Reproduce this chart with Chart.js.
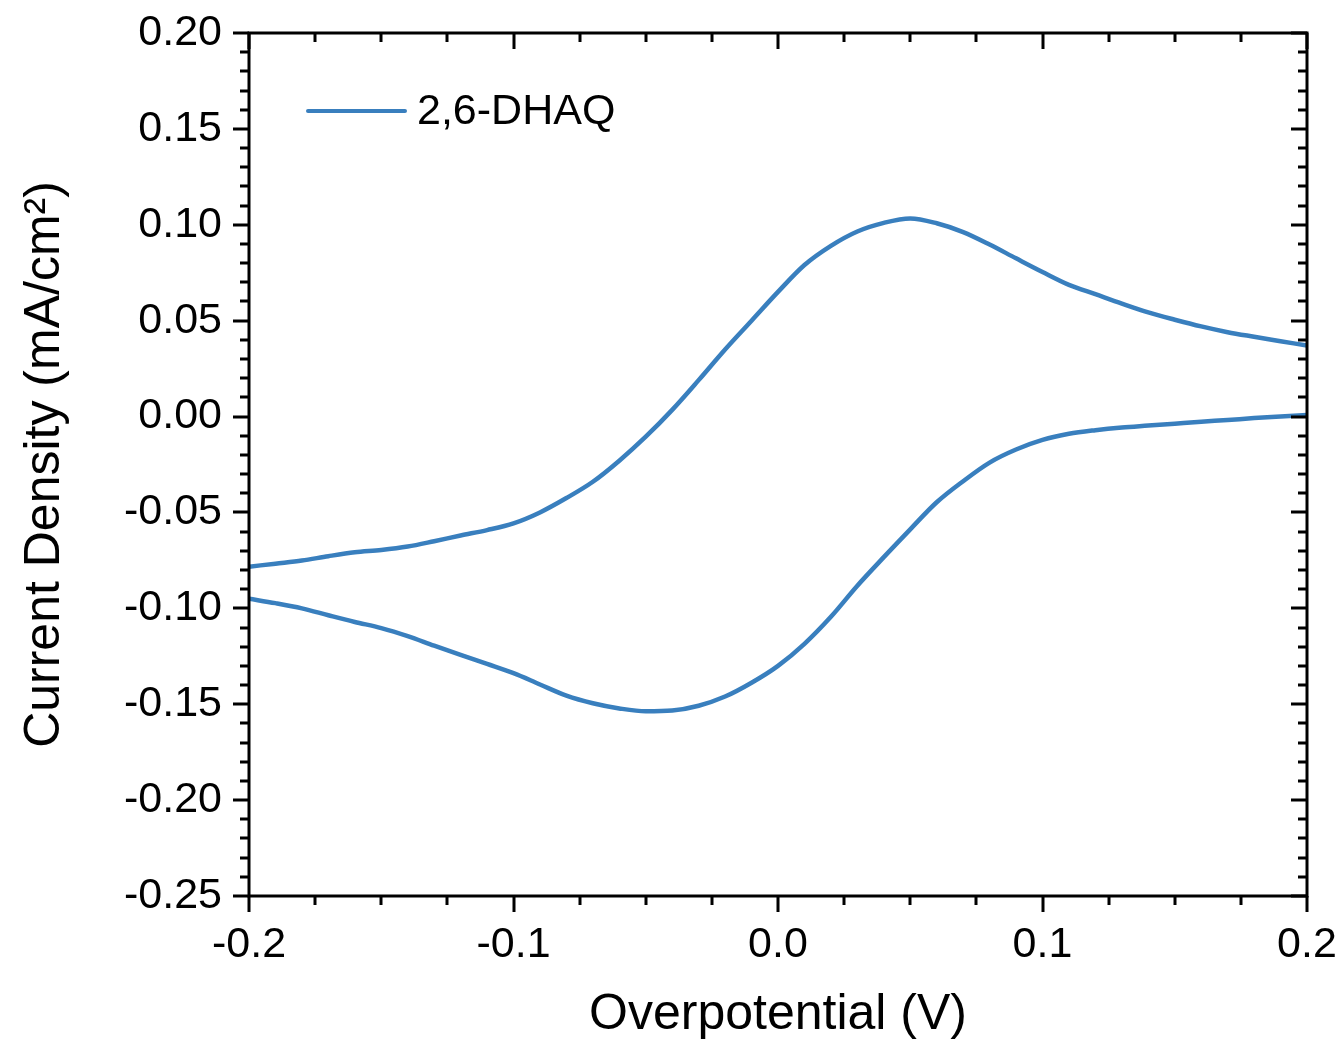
<!DOCTYPE html>
<html>
<head>
<meta charset="utf-8">
<script src="https://cdn.jsdelivr.net/npm/chart.js@4/dist/chart.umd.min.js"></script>
<style>
    body { margin: 0; background: #fff; }
    #wrap { width: 1343px; height: 1047px; }
</style>
</head>
<body>
<div id="wrap"><canvas id="cv" width="1343" height="1047"></canvas></div>
<script>
// overpotential grid (V)
const voltage = [
    -0.20, -0.19, -0.18, -0.17, -0.16, -0.15, -0.14, -0.13, -0.12, -0.11,
    -0.10, -0.09, -0.08, -0.07, -0.06, -0.05, -0.04, -0.03, -0.02, -0.01,
     0.00,  0.01,  0.02,  0.03,  0.04,  0.05,  0.06,  0.07,  0.08,  0.09,
     0.10,  0.11,  0.12,  0.13,  0.14,  0.15,  0.16,  0.17,  0.18,  0.19, 0.20
];
// forward (oxidation) sweep, mA/cm2
const anodic = [
    -0.0783, -0.0767, -0.0751, -0.0728, -0.0708, -0.0696, -0.0678, -0.0650, -0.0620, -0.0592,
    -0.0557, -0.0500, -0.0425, -0.0340, -0.0230, -0.0105,  0.0035,  0.0190,  0.0350,  0.0500,
     0.0650,  0.0790,  0.0890,  0.0965,  0.1010,  0.1033,  0.1008,  0.0962,  0.0897,  0.0825,
     0.0754,  0.0687,  0.0638,  0.0589,  0.0543,  0.0505,  0.0470,  0.0440,  0.0416,  0.0393, 0.0370
];
// reverse (reduction) sweep, mA/cm2
const cathodic = [
    -0.0950, -0.0973, -0.1000, -0.1036, -0.1071, -0.1103, -0.1145, -0.1195, -0.1243, -0.1290,
    -0.1338, -0.1397, -0.1455, -0.1495, -0.1522, -0.1537, -0.1533, -0.1508, -0.1460, -0.1388,
    -0.1300, -0.1185, -0.1044, -0.0882, -0.0733, -0.0588, -0.0447, -0.0337, -0.0240, -0.0172,
    -0.0122, -0.0090, -0.0071, -0.0057, -0.0047, -0.0037, -0.0027, -0.0018, -0.0008,  0.0000, 0.0008
];
const xTicks = [-0.2, -0.1, 0.0, 0.1, 0.2];
const yTicks = [-0.25, -0.20, -0.15, -0.10, -0.05, 0.00, 0.05, 0.10, 0.15, 0.20];
const seriesLabel = "2,6-DHAQ";

const FONT = "'Liberation Sans', Arial, Helvetica, sans-serif";
const LINE = '#397fbe';

function points(ys) {
    return voltage.map((v, i) => ({ x: v, y: ys[i] }));
}

// no extra room for overhanging tick labels, the layout padding handles it
function noLabelPadding(scale) {
    scale.paddingTop = 0;
    scale.paddingBottom = 0;
    scale.paddingLeft = 0;
    scale.paddingRight = 0;
}

// frame, origin-style ticks on all four sides, and the in-plot legend
const frameTicks = {
    id: 'frameTicks',
    afterDraw: function(chart) {
        const ctx = chart.ctx, a = chart.chartArea;
        const x = chart.scales.x, y = chart.scales.y;
        ctx.save();
        ctx.strokeStyle = '#000';
        ctx.lineWidth = 3;
        ctx.strokeRect(a.left, a.top, a.right - a.left, a.bottom - a.top);

        ctx.beginPath();
        for (let i = 0; i <= 16; i++) {
            const px = Math.round(x.getPixelForValue(x.min + i * 0.025));
            const len = (i % 4 === 0) ? 16 : 9;
            ctx.moveTo(px, a.bottom); ctx.lineTo(px, a.bottom + len);
            ctx.moveTo(px, a.top); ctx.lineTo(px, a.top + len);
        }
        for (let j = 0; j <= 45; j++) {
            const py = Math.round(y.getPixelForValue(y.min + j * 0.01));
            const len = (j % 5 === 0) ? 16 : 9;
            ctx.moveTo(a.left, py); ctx.lineTo(a.left - len, py);
            ctx.moveTo(a.right, py); ctx.lineTo(a.right - len, py);
        }
        ctx.stroke();

        // legend
        const ds = chart.data.datasets[0];
        const ly = a.top + 78;
        ctx.strokeStyle = ds.borderColor;
        ctx.lineWidth = 4;
        ctx.lineCap = 'round';
        ctx.beginPath();
        ctx.moveTo(a.left + 59, ly);
        ctx.lineTo(a.left + 156, ly);
        ctx.stroke();
        ctx.fillStyle = '#000';
        ctx.font = '43px ' + FONT;
        ctx.textBaseline = 'middle';
        ctx.fillText(ds.label, a.left + 168, ly + 1);
        ctx.restore();
    }
};

new Chart(document.getElementById('cv'), {
    type: 'scatter',
    data: {
        datasets: [{
            label: seriesLabel,
            data: points(anodic),
            showLine: true,
            borderColor: LINE,
            borderWidth: 4.5,
            pointRadius: 0,
            cubicInterpolationMode: 'monotone'
        }, {
            label: seriesLabel,
            data: points(cathodic),
            showLine: true,
            borderColor: LINE,
            borderWidth: 4.5,
            pointRadius: 0,
            cubicInterpolationMode: 'monotone'
        }]
    },
    options: {
        responsive: false,
        animation: false,
        devicePixelRatio: 1,
        layout: { padding: { left: 0, top: 33, right: 36, bottom: 0 } },
        plugins: {
            legend: { display: false },
            tooltip: { enabled: false }
        },
        scales: {
            x: {
                type: 'linear',
                min: -0.2,
                max: 0.2,
                afterBuildTicks: function(scale) {
                    scale.ticks = xTicks.map(v => ({ value: v }));
                },
                afterFit: function(scale) {
                    scale.height = 151;
                    noLabelPadding(scale);
                },
                grid: { display: false },
                border: { display: false },
                ticks: {
                    color: '#000',
                    font: { family: FONT, size: 43 },
                    padding: 15,
                    maxRotation: 0,
                    callback: v => v.toFixed(1)
                },
                title: {
                    display: true,
                    text: 'Overpotential (V)',
                    color: '#000',
                    font: { family: FONT, size: 50 },
                    padding: { top: 0, bottom: 2 }
                }
            },
            y: {
                type: 'linear',
                min: -0.25,
                max: 0.20,
                afterBuildTicks: function(scale) {
                    scale.ticks = yTicks.map(v => ({ value: v }));
                },
                afterFit: function(scale) {
                    scale.width = 249;
                    noLabelPadding(scale);
                },
                grid: { display: false },
                border: { display: false },
                ticks: {
                    color: '#000',
                    font: { family: FONT, size: 43 },
                    padding: 19,
                    callback: v => v.toFixed(2)
                },
                title: {
                    display: true,
                    text: 'Current Density (mA/cm²)',
                    color: '#000',
                    font: { family: FONT, size: 50 },
                    padding: { top: 15, bottom: 0 }
                }
            }
        }
    },
    plugins: [frameTicks]
});
</script>
</body>
</html>
